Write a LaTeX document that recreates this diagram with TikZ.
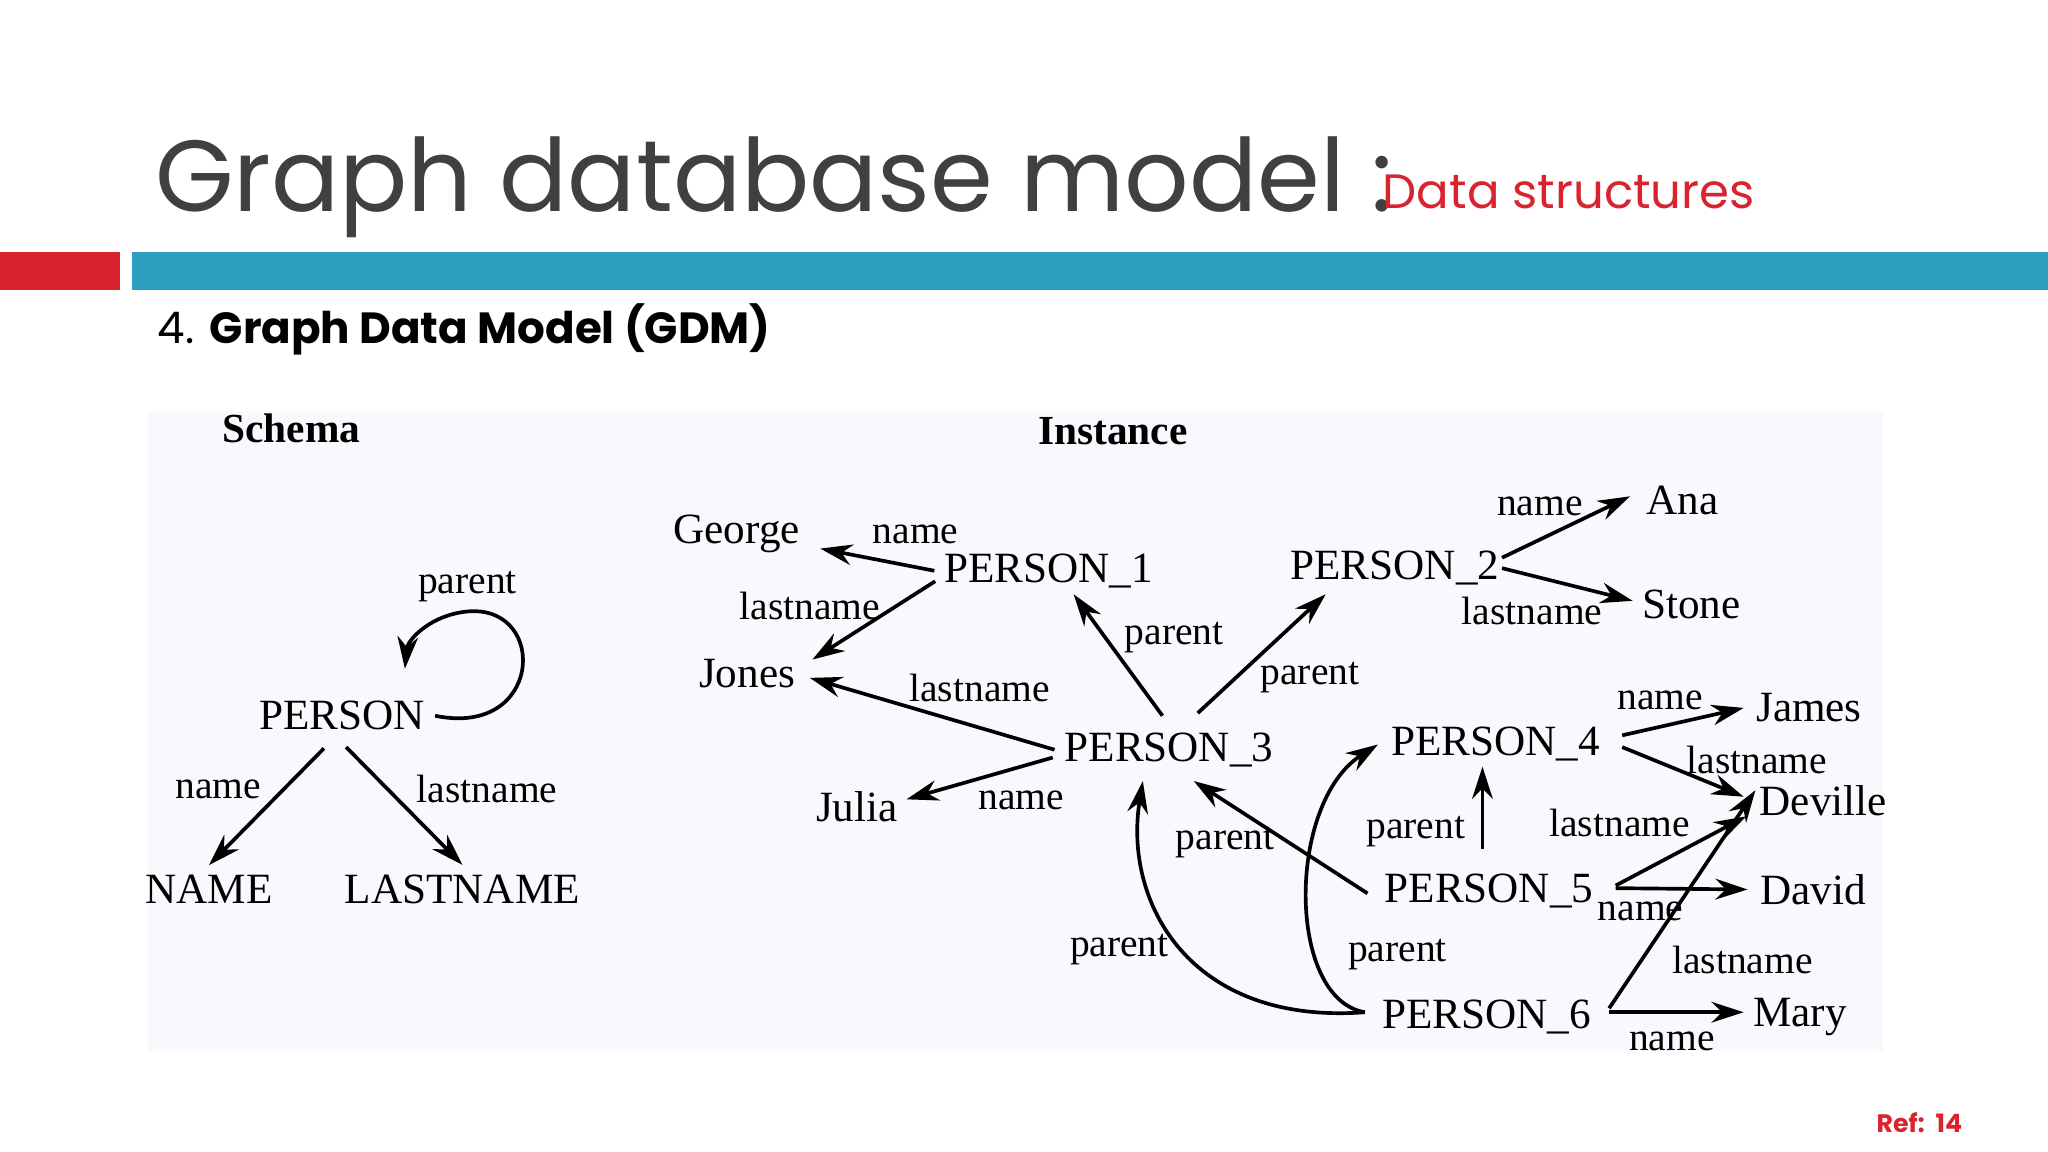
\documentclass[tikz,border=0pt]{standalone}
\usepackage{fontspec}
\setmainfont{Liberation Serif}
\newfontfamily\titlefont{Poppins}
\usetikzlibrary{arrows.meta}
\definecolor{barred}{RGB}{217,36,47}
\definecolor{barblue}{RGB}{46,159,192}
\definecolor{titlegray}{RGB}{64,64,64}
\definecolor{panelbg}{RGB}{249,248,252}
\tikzset{lbl/.style={font=\fontsize{8.6}{10}\selectfont, inner sep=1pt}}
\tikzset{ent/.style={font=\fontsize{9.4}{11}\selectfont, inner sep=2pt}}
\tikzset{next/.style={-{Stealth[length=7pt,width=4.5pt]}, thick}}
\begin{document}
\begin{tikzpicture}[x=0.01cm, y=-0.01cm]
  \useasboundingbox (0,0) rectangle (1568,882);
  \fill[white] (0,0) rectangle (1568,882);

  % --- header ---
  \node[anchor=base west, inner sep=0, text=titlegray, font=\titlefont\fontsize{22}{26}\selectfont] (title) at (118,162) {Graph database model :};
  \node[anchor=base west, inner sep=0, text=barred, font=\titlefont\fontsize{10.5}{12}\selectfont] (subtitle) at (1058,160) {Data structures};
  \fill[barred] (0,193) rectangle (92,222);
  \fill[barblue] (101,193) rectangle (1568,222);
  \node[anchor=base west, inner sep=0, font=\titlefont\fontsize{9.5}{11}\selectfont] (heading) at (120,263) {4. \textbf{Graph Data Model (GDM)}};
  \node[anchor=base east, inner sep=0, text=barred, font=\titlefont\bfseries\fontsize{5.5}{6}\selectfont] (ref) at (1503,867) {Ref:\ \ 14};

  % --- panel ---
  \fill[panelbg] (113,315) rectangle (1442,805);

  % --- schema ---
  \node[ent, font=\bfseries\fontsize{9}{11}\selectfont] (schema) at (223,328) {Schema};
  \node[ent] (person) at (262,548) {PERSON};
  \node[ent] (NAME) at (160,681) {NAME};
  \node[ent] (LASTNAME) at (354,681) {LASTNAME};
  \node[lbl] at (358,449) {parent};
  \node[lbl] at (167,604) {name};
  \node[lbl] at (373,604) {lastname};
  \draw[next] (person.east) .. controls (415,565) and (420,465) .. (360,468)
              .. controls (330,470) and (312,490) .. (310,512);
  \draw[next] (248,573) -- (NAME.north);
  \draw[next] (265,572) -- (LASTNAME.north);

  % --- instance ---
  \node[ent, font=\bfseries\fontsize{9}{11}\selectfont] (instance) at (852,330) {Instance};
  \node[ent] (george) at (564,409) {George};
  \node[ent] (p1) at (803,437) {PERSON\_1};
  \node[ent] (jones) at (572,516) {Jones};
  \node[ent] (p3) at (895,574) {PERSON\_3};
  \node[ent] (julia) at (656,618) {Julia};
  \node[ent] (p2) at (1068,435) {PERSON\_2};
  \node[ent] (ana) at (1288,383) {Ana};
  \node[ent] (stone) at (1295,463) {Stone};
  \node[ent] (p4) at (1145,570) {PERSON\_4};
  \node[ent] (james) at (1385,542) {James};
  \node[ent] (deville) at (1396,613) {Deville};
  \node[ent] (p5) at (1140,682) {PERSON\_5};
  \node[ent] (david) at (1388,681) {David};
  \node[ent] (p6) at (1138,779) {PERSON\_6};
  \node[ent] (mary) at (1378,779) {Mary};

  \node[lbl] at (701,409) {name};
  \node[lbl] at (620,464) {lastname};
  \node[lbl] at (750,527) {lastname};
  \node[lbl] at (782,613) {name};
  \node[lbl] at (899,488) {parent};
  \node[lbl] at (1003,519) {parent};
  \node[lbl] at (1179,388) {name};
  \node[lbl] at (1173,468) {lastname};
  \node[lbl] at (1271,536) {name};
  \node[lbl] at (1345,582) {lastname};
  \node[lbl] at (1084,637) {parent};
  \node[lbl] at (1240,630) {lastname};
  \node[lbl] at (1256,698) {name};
  \node[lbl] at (1334,735) {lastname};
  \node[lbl] at (938,645) {parent};
  \node[lbl] at (857,727) {parent};
  \node[lbl] at (1070,731) {parent};
  \node[lbl] at (1280,797) {name};

  \draw[next] (p1.west) -- (628,420);
  \draw[next] (716,445) -- (622,505);
  \draw[next] (p3.west) -- (620,519);
  \draw[next] (806,580) -- (694,612);
  \draw[next] (890,548) -- (822,455);
  \draw[next] (917,546) -- (1015,455);
  \draw[next] (1150,427) -- (1248,380);
  \draw[next] (1150,435) -- (1250,460);
  \draw[next] (1242,563) -- (1335,542);
  \draw[next] (1242,572) -- (1335,610);
  \draw[next] (1135,650) -- (1135,587);
  \draw[next] (1047,684) -- (914,598);
  \draw[next] (1237,678) -- (1337,625);
  \draw[next] (1237,680) -- (1338,681);
  \draw[next] (1232,772) -- (1344,605);
  \draw[next] (1232,775) -- (1335,775);
  \draw[next] (1045,775) .. controls (910,785) and (860,690) .. (875,598);
  \draw[next] (1045,775) .. controls (985,765) and (985,615) .. (1055,570);
\end{tikzpicture}
\end{document}
